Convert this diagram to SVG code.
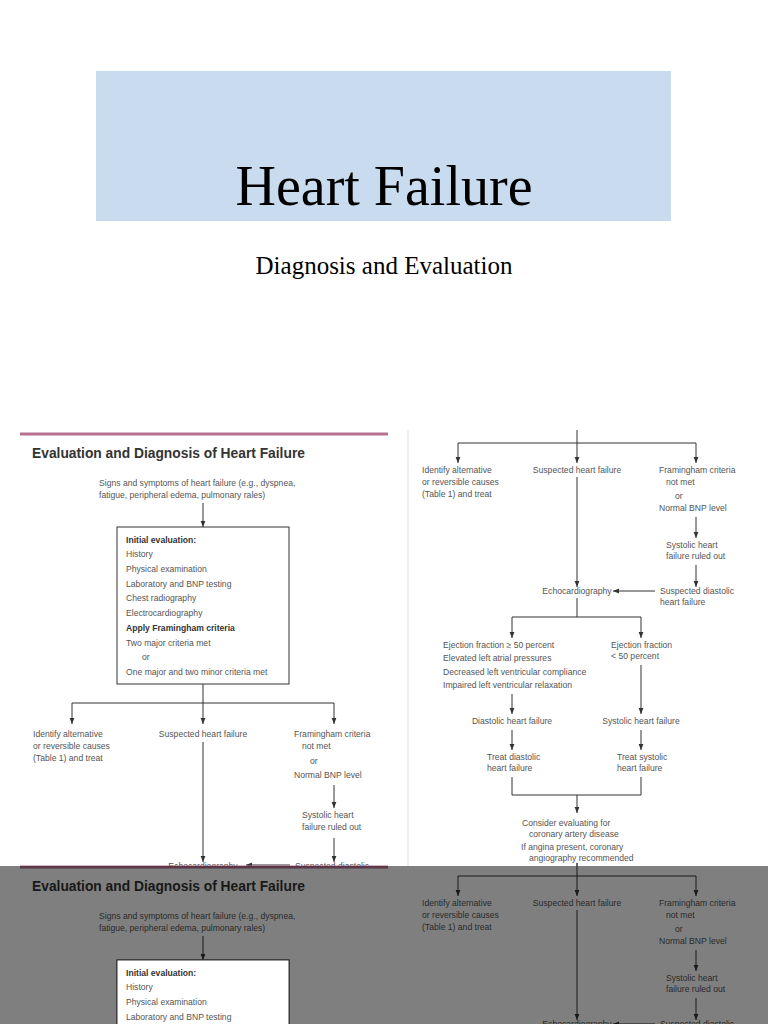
<svg xmlns="http://www.w3.org/2000/svg" xmlns:xlink="http://www.w3.org/1999/xlink" width="768" height="1024" viewBox="0 0 768 1024">
<style>
.t{font-family:"Liberation Sans",Arial,sans-serif;font-size:8.6px;fill:#555}
.b{font-weight:bold;fill:#333}
.c{text-anchor:middle}
.ln{stroke:#333;stroke-width:1;fill:none}
.h{font-family:"Liberation Serif","Times New Roman",serif;fill:#000}
</style>
<defs>
<marker id="a" viewBox="0 0 10 10" refX="10" refY="5" markerWidth="6" markerHeight="6" orient="auto"><path d="M0,1 L10,5 L0,9 z" fill="#333"/></marker>
</defs>
<rect width="768" height="1024" fill="#fff"/>
<g id="header">
<rect x="96" y="71" width="575" height="150" fill="#c9dcef"/>
<text class="h" x="384" y="205" font-size="56" text-anchor="middle">Heart Failure</text>
<text class="h" x="384" y="274" font-size="25" text-anchor="middle">Diagnosis and Evaluation</text>
</g>
<g id="left">
<line x1="20" y1="434" x2="388" y2="434" stroke="#b5718f" stroke-width="3"/>
<text class="t b" x="32" y="458" style="font-size:13.8px">Evaluation and Diagnosis of Heart Failure</text>
<text class="t" x="99" y="486">Signs and symptoms of heart failure (e.g., dyspnea,</text>
<text class="t" x="99" y="498">fatigue, peripheral edema, pulmonary rales)</text>
<g id="initbox">
<rect x="117" y="527" width="172" height="157" fill="#fff" stroke="#333"/>
<text class="t b" x="126" y="543">Initial evaluation:</text>
<text class="t" x="126" y="557">History</text>
<text class="t" x="126" y="572">Physical examination</text>
<text class="t" x="126" y="587">Laboratory and BNP testing</text>
<text class="t" x="126" y="601">Chest radiography</text>
<text class="t" x="126" y="616">Electrocardiography</text>
<text class="t b" x="126" y="631">Apply Framingham criteria</text>
<text class="t" x="126" y="646">Two major criteria met</text>
<text class="t" x="142" y="660">or</text>
<text class="t" x="126" y="675">One major and two minor criteria met</text>
</g>
<text class="t" x="33" y="737">Identify alternative</text>
<text class="t" x="33" y="749">or reversible causes</text>
<text class="t" x="33" y="761">(Table 1) and treat</text>
<text class="t c" x="203" y="737">Suspected heart failure</text>
<text class="t" x="294" y="737">Framingham criteria</text>
<text class="t" x="302" y="749">not met</text>
<text class="t" x="310" y="764">or</text>
<text class="t" x="294" y="778">Normal BNP level</text>
<text class="t" x="302" y="818">Systolic heart</text>
<text class="t" x="302" y="830">failure ruled out</text>
<text class="t c" x="203" y="869">Echocardiography</text>
<text class="t" x="295" y="869">Suspected diastolic</text>
</g>
<g id="leftconn" class="ln">
<line x1="203" y1="503" x2="203" y2="527" marker-end="url(#a)"/>
<line x1="203" y1="684" x2="203" y2="703"/>
<line x1="72" y1="703" x2="334" y2="703"/>
<line x1="72" y1="703" x2="72" y2="724" marker-end="url(#a)"/>
<line x1="203" y1="703" x2="203" y2="724" marker-end="url(#a)"/>
<line x1="334" y1="703" x2="334" y2="724" marker-end="url(#a)"/>
<line x1="334" y1="785" x2="334" y2="808" marker-end="url(#a)"/>
<line x1="334" y1="838" x2="334" y2="862" marker-end="url(#a)"/>
<line x1="203" y1="742" x2="203" y2="862" marker-end="url(#a)"/>
<line x1="290" y1="865" x2="246" y2="865" marker-end="url(#a)"/>
</g>
<line x1="408" y1="430" x2="408" y2="866" stroke="#ddd"/>
<g id="right">
<text class="t" x="422" y="473">Identify alternative</text>
<text class="t" x="422" y="485">or reversible causes</text>
<text class="t" x="422" y="497">(Table 1) and treat</text>
<text class="t c" x="577" y="473">Suspected heart failure</text>
<text class="t" x="659" y="473">Framingham criteria</text>
<text class="t" x="666" y="485">not met</text>
<text class="t" x="675" y="499">or</text>
<text class="t" x="659" y="511">Normal BNP level</text>
<text class="t" x="666" y="548">Systolic heart</text>
<text class="t" x="666" y="559">failure ruled out</text>
<text class="t" x="660" y="594">Suspected diastolic</text>
<text class="t" x="660" y="605">heart failure</text>
<text class="t c" x="577" y="594">Echocardiography</text>
<text class="t" x="443" y="648">Ejection fraction ≥ 50 percent</text>
<text class="t" x="443" y="661">Elevated left atrial pressures</text>
<text class="t" x="443" y="675">Decreased left ventricular compliance</text>
<text class="t" x="443" y="688">Impaired left ventricular relaxation</text>
<text class="t" x="611" y="648">Ejection fraction</text>
<text class="t" x="611" y="659">&lt; 50 percent</text>
<text class="t c" x="512" y="724">Diastolic heart failure</text>
<text class="t c" x="641" y="724">Systolic heart failure</text>
<text class="t" x="487" y="760">Treat diastolic</text>
<text class="t" x="487" y="771">heart failure</text>
<text class="t" x="617" y="760">Treat systolic</text>
<text class="t" x="617" y="771">heart failure</text>
<text class="t" x="522" y="826">Consider evaluating for</text>
<text class="t" x="529" y="837">coronary artery disease</text>
<text class="t" x="521" y="850">If angina present, coronary</text>
<text class="t" x="529" y="861">angiography recommended</text>
<g class="ln">
<line x1="577" y1="430" x2="577" y2="443"/>
<line x1="458" y1="443" x2="696" y2="443"/>
<line x1="458" y1="443" x2="458" y2="463" marker-end="url(#a)"/>
<line x1="577" y1="443" x2="577" y2="463" marker-end="url(#a)"/>
<line x1="696" y1="443" x2="696" y2="463" marker-end="url(#a)"/>
<line x1="696" y1="517" x2="696" y2="538" marker-end="url(#a)"/>
<line x1="696" y1="565" x2="696" y2="587" marker-end="url(#a)"/>
<line x1="655" y1="591" x2="613" y2="591" marker-end="url(#a)"/>
<line x1="577" y1="477" x2="577" y2="587" marker-end="url(#a)"/>
<line x1="577" y1="598" x2="577" y2="617"/>
<line x1="512" y1="617" x2="641" y2="617"/>
<line x1="512" y1="617" x2="512" y2="638" marker-end="url(#a)"/>
<line x1="641" y1="617" x2="641" y2="638" marker-end="url(#a)"/>
<line x1="512" y1="694" x2="512" y2="714" marker-end="url(#a)"/>
<line x1="641" y1="665" x2="641" y2="714" marker-end="url(#a)"/>
<line x1="512" y1="730" x2="512" y2="750" marker-end="url(#a)"/>
<line x1="641" y1="730" x2="641" y2="750" marker-end="url(#a)"/>
<polyline points="512,777 512,795 641,795 641,777"/>
<line x1="577" y1="795" x2="577" y2="813" marker-end="url(#a)"/>
<line x1="577" y1="863" x2="577" y2="876"/>
</g>
</g>
<g id="bottom">
<rect x="0" y="866" width="768" height="158" fill="#fff"/>
<use xlink:href="#left" transform="translate(0,433)"/>
<use xlink:href="#leftconn" transform="translate(0,433)"/>
<use xlink:href="#right" transform="translate(0,433)"/>
<rect x="0" y="866" width="768" height="158" fill="#000" opacity="0.5"/>
<use xlink:href="#initbox" transform="translate(0,433)"/>
</g>
</svg>
